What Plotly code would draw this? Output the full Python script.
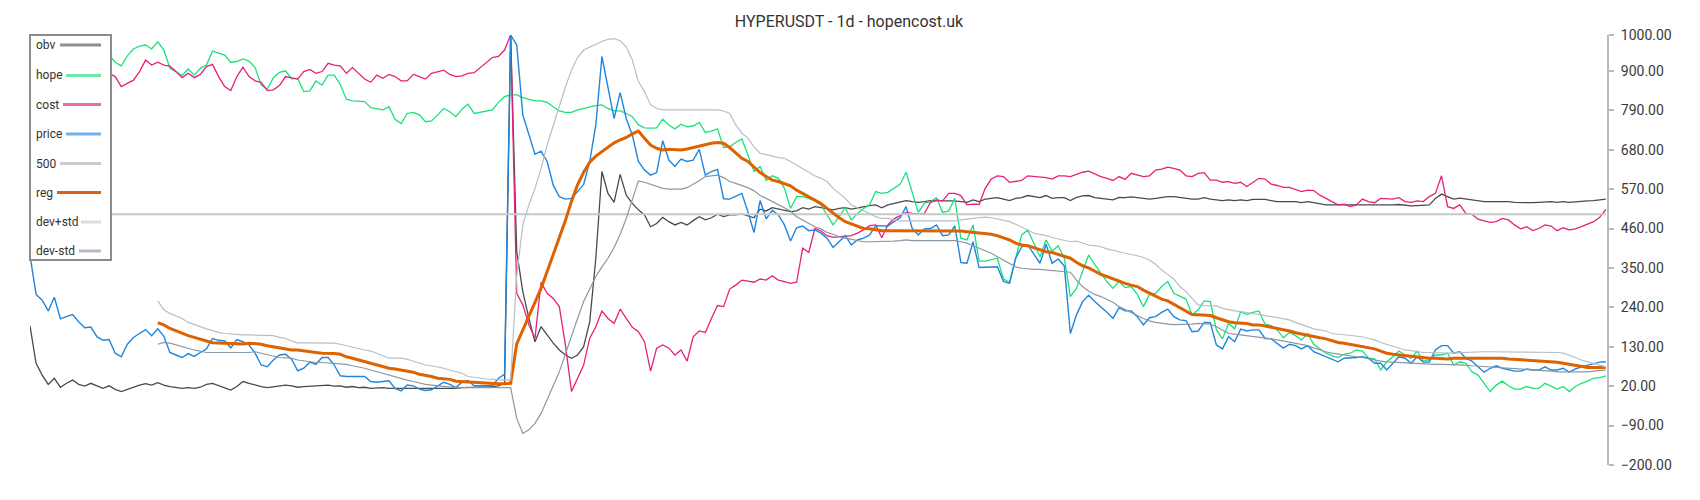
import plotly.graph_objects as go

N = 260
idx = list(range(N))

price = [
    385, 276, 260, 230, 268, 208, 214, 220, 200, 183, 185, 158, 148, 150, 112, 102, 137, 156, 167, 178,
    161, 180, 159, 114, 107, 100, 111, 103, 114, 124, 153, 148, 146, 127, 150, 144, 135, 112, 79, 74,
    93, 107, 109, 95, 63, 70, 87, 81, 100, 100, 79, 49, 47, 47, 47, 47, 33, 31, 33, 35,
    14, 7, 23, 21, 12, 8, 10, 21, 31, 25, 16, 31, 36, 21, 21, 23, 21, 42, 53, 1000,
    972, 777, 721, 667, 676, 647, 581, 549, 542, 544, 563, 583, 647, 749, 940, 851, 767, 839, 767, 721,
    647, 623, 609, 616, 705, 651, 633, 654, 647, 651, 681, 609, 619, 625, 543, 542, 551, 558, 507, 449,
    538, 487, 511, 498, 470, 425, 462, 467, 454, 456, 447, 433, 407, 425, 440, 414, 428, 433, 442, 468,
    467, 467, 479, 490, 521, 460, 442, 459, 460, 470, 440, 442, 467, 365, 363, 423, 351, 351, 351, 353,
    312, 307, 377, 409, 414, 388, 363, 416, 363, 375, 355, 167, 219, 256, 274, 256, 242, 226, 209, 239,
    230, 230, 214, 191, 211, 214, 226, 235, 214, 205, 203, 172, 174, 198, 197, 135, 124, 158, 144, 179,
    174, 177, 177, 153, 152, 140, 126, 137, 133, 124, 133, 116, 109, 101, 95, 88, 98, 98, 100, 102,
    98, 84, 84, 65, 84, 102, 98, 84, 102, 87, 87, 121, 133, 133, 112, 116, 98, 90, 74, 59,
    70, 77, 70, 65, 62, 62, 68, 65, 65, 74, 65, 65, 70, 59, 68, 74, 79, 84, 87, 88,
]

obv = [
    188, 84, 51, 25, 42, 17, 28, 37, 25, 20, 28, 20, 14, 21, 11, 5, 11, 19, 23, 27,
    23, 30, 23, 19, 16, 14, 16, 14, 17, 25, 28, 21, 14, 9, 19, 33, 28, 23, 19, 16,
    19, 21, 23, 21, 17, 19, 20, 19, 21, 23, 20, 21, 17, 19, 16, 17, 14, 16, 16, 14,
    14, 14, 12, 14, 14, 12, 12, 14, 12, 14, 14, 16, 16, 17, 17, 18, 19, 21, 28, 1000,
    395, 284, 209, 144, 186, 163, 140, 121, 107, 98, 107, 130, 200, 377, 619, 558, 533, 611, 553, 530,
    512, 498, 465, 474, 491, 479, 470, 477, 470, 482, 493, 484, 490, 500, 493, 498, 498, 501, 496, 490,
    514, 509, 518, 514, 509, 507, 509, 518, 514, 521, 518, 514, 512, 516, 518, 514, 518, 521, 524, 526,
    518, 526, 530, 535, 538, 535, 533, 535, 538, 537, 538, 537, 537, 535, 533, 540, 535, 542, 544, 546,
    542, 538, 544, 546, 552, 549, 546, 552, 544, 546, 546, 538, 547, 551, 552, 546, 544, 542, 540, 547,
    546, 548, 546, 542, 542, 544, 547, 549, 549, 547, 543, 542, 542, 546, 542, 540, 538, 540, 538, 540,
    538, 541, 541, 541, 538, 535, 535, 535, 535, 532, 535, 532, 528, 526, 526, 526, 526, 525, 524, 526,
    526, 524, 526, 525, 526, 527, 524, 523, 524, 524, 526, 544, 556, 549, 542, 545, 542, 540, 538, 535,
    535, 535, 537, 535, 533, 532, 533, 532, 533, 535, 535, 533, 535, 533, 535, 535, 537, 538, 540, 542,
]

hope = [
    950, 955, 945, 938, 948, 960, 952, 944, 936, 946, 952, 948, 940, 944, 924, 914, 942, 961, 969, 972,
    961, 981, 958, 907, 896, 887, 905, 888, 907, 916, 955, 950, 944, 924, 926, 933, 927, 909, 860, 849,
    881, 896, 900, 878, 879, 842, 844, 872, 860, 888, 888, 862, 821, 816, 816, 814, 797, 795, 791, 800,
    765, 753, 781, 784, 777, 758, 760, 777, 795, 786, 772, 793, 807, 781, 784, 788, 791, 812, 828, 833,
    833, 825, 821, 816, 816, 812, 800, 788, 784, 784, 791, 795, 800, 803, 805, 795, 788, 788, 781, 772,
    749, 741, 740, 741, 765, 749, 738, 751, 744, 746, 756, 728, 732, 738, 686, 688, 700, 710, 665, 619,
    633, 594, 607, 600, 572, 516, 549, 549, 544, 537, 526, 498, 470, 493, 518, 484, 502, 516, 526, 563,
    558, 561, 572, 583, 617, 560, 505, 530, 535, 546, 505, 509, 544, 433, 428, 470, 369, 369, 372, 377,
    319, 310, 377, 442, 456, 419, 381, 428, 397, 412, 377, 270, 293, 340, 386, 360, 335, 312, 293, 312,
    295, 298, 276, 242, 276, 279, 298, 312, 279, 270, 263, 219, 233, 258, 256, 177, 152, 195, 180, 228,
    220, 226, 230, 193, 189, 177, 155, 170, 161, 149, 167, 137, 124, 112, 105, 100, 109, 112, 121, 118,
    98, 96, 65, 88, 102, 118, 107, 98, 118, 90, 93, 107, 107, 112, 79, 88, 84, 60, 51, 28,
    5, 23, 34, 21, 12, 12, 19, 14, 14, 28, 19, 12, 19, 5, 19, 28, 34, 42, 44, 49,
]

cost = [
    880, 872, 885, 895, 880, 868, 875, 890, 900, 888, 876, 882, 895, 893, 884, 856, 865, 874, 898, 930,
    916, 924, 916, 913, 898, 881, 893, 881, 890, 912, 918, 884, 856, 845, 884, 910, 884, 872, 868, 845,
    847, 859, 884, 880, 877, 898, 904, 893, 898, 921, 916, 914, 893, 909, 893, 877, 868, 888, 879, 890,
    884, 872, 872, 890, 884, 877, 893, 898, 902, 890, 884, 886, 893, 895, 909, 921, 937, 940, 958, 1000,
    279, 247, 191, 154, 310, 279, 265, 242, 135, 5, 42, 79, 154, 186, 230, 209, 195, 235, 209, 184,
    172, 144, 62, 126, 135, 126, 107, 121, 90, 158, 174, 170, 209, 245, 242, 291, 302, 316, 313, 310,
    319, 316, 328, 316, 312, 307, 310, 405, 393, 460, 453, 440, 435, 437, 440, 440, 447, 456, 468, 470,
    434, 470, 487, 496, 505, 502, 500, 502, 533, 540, 537, 558, 558, 552, 526, 528, 527, 572, 598, 607,
    605, 589, 591, 594, 607, 605, 605, 602, 598, 607, 607, 605, 611, 617, 620, 612, 605, 600, 594, 605,
    597, 614, 609, 605, 607, 623, 626, 631, 628, 623, 607, 605, 614, 616, 595, 595, 589, 591, 586, 589,
    577, 589, 600, 598, 584, 580, 575, 575, 569, 563, 567, 566, 553, 544, 537, 526, 528, 521, 526, 542,
    535, 532, 544, 542, 542, 546, 535, 533, 537, 535, 549, 558, 607, 521, 516, 526, 502, 500, 486, 481,
    477, 479, 488, 484, 470, 459, 465, 454, 460, 470, 467, 454, 462, 456, 459, 465, 472, 479, 491, 513,
]

level_500 = [500] * N

reg = [None] * 21 + [
    197, 191, 181, 174, 167, 161, 156, 152, 146, 141, 140, 139, 138, 137, 138, 140, 139, 137, 133,
    130, 126, 124, 121, 121, 118, 116, 114, 112, 112, 111, 109, 102, 98, 93, 88, 84, 79, 74, 70,
    68, 65, 62, 59, 53, 51, 47, 42, 40, 39, 34, 33, 31, 30, 28, 28, 27, 27, 27, 28,
    138, 178, 216, 254, 293, 340, 386, 433, 482, 536, 582, 617, 645, 662, 675, 688, 699, 707, 714, 724,
    732, 712, 693, 684, 679, 681, 679, 679, 682, 686, 691, 695, 698, 700, 698, 686, 670, 656, 647, 630,
    616, 605, 595, 591, 584, 579, 567, 558, 549, 540, 530, 516, 502, 490, 479, 472, 465, 460, 459, 456,
    454, 454, 454, 454, 454, 454, 454, 454, 454, 454, 454, 454, 454, 453, 451, 449, 449, 447, 444, 440,
    435, 428, 419, 414, 412, 407, 400, 395, 393, 388, 384, 377, 366, 356, 350, 341, 332, 326, 319, 314,
    307, 302, 298, 288, 279, 270, 263, 258, 248, 239, 230, 220, 219, 219, 217, 211, 205, 200, 197, 197,
    195, 191, 191, 188, 185, 181, 177, 174, 169, 165, 161, 158, 155, 152, 146, 142, 140, 137, 133, 130,
    127, 124, 118, 112, 109, 107, 105, 102, 102, 100, 98, 98, 96, 96, 98, 98, 100, 100, 100, 100,
    98, 98, 98, 96, 95, 93, 93, 91, 90, 88, 88, 87, 84, 81, 77, 74, 72, 72, 72, 72,
]

dev_plus = [None] * 21 + [
    258, 233, 223, 217, 209, 198, 193, 186, 180, 174, 170, 167, 165, 165, 163, 163, 163, 163, 163,
    161, 156, 153, 146, 141, 141, 141, 141, 141, 141, 140, 137, 133, 127, 124, 121, 118, 112, 105, 98,
    98, 98, 95, 90, 84, 79, 77, 74, 70, 65, 60, 56, 47, 44, 42, 40, 39, 37, 37, 37,
    330, 470, 526, 572, 628, 693, 749, 800, 855, 902, 937, 958, 966, 975, 982, 988, 990, 984, 967, 930,
    870, 842, 805, 795, 791, 791, 791, 791, 791, 791, 793, 793, 793, 791, 788, 781, 749, 726, 712, 688,
    670, 665, 662, 658, 656, 647, 637, 628, 619, 607, 600, 591, 572, 558, 544, 526, 518, 512, 502, 493,
    488, 488, 484, 481, 481, 481, 481, 481, 481, 481, 481, 481, 481, 484, 487, 488, 490, 492, 490, 487,
    484, 479, 472, 465, 456, 447, 444, 440, 435, 431, 425, 423, 425, 419, 414, 412, 409, 403, 400, 395,
    391, 388, 384, 379, 372, 360, 344, 332, 319, 298, 284, 265, 247, 245, 245, 244, 237, 233, 230, 228,
    226, 223, 220, 217, 214, 211, 209, 205, 198, 191, 186, 180, 177, 174, 167, 165, 163, 163, 161, 158,
    153, 149, 142, 137, 130, 126, 121, 119, 116, 114, 114, 113, 112, 112, 113, 114, 114, 115, 116, 116,
    116, 116, 116, 116, 116, 116, 116, 116, 116, 116, 116, 114, 112, 107, 100, 93, 88, 84, 79, 74,
]

dev_minus = [None] * 21 + [
    137, 142, 140, 135, 129, 126, 121, 118, 114, 114, 114, 114, 114, 113, 112, 114, 116, 112, 107,
    104, 100, 99, 98, 93, 90, 88, 86, 86, 85, 85, 83, 81, 77, 74, 70, 65, 60, 56, 51,
    47, 42, 37, 33, 28, 25, 23, 21, 19, 17, 16, 16, 16, 16, 16, 16, 16, 16, 16, 16,
    -70, -112, -102, -84, -56, -19, 21, 60, 110, 163, 209, 256, 293, 326, 353, 377, 407, 444, 488, 544,
    593, 589, 583, 577, 572, 570, 570, 570, 574, 583, 593, 605, 607, 609, 602, 591, 586, 581, 574, 565,
    552, 544, 535, 526, 516, 509, 493, 484, 474, 465, 459, 449, 444, 437, 433, 430, 426, 423, 423, 423,
    423, 423, 425, 426, 428, 426, 426, 428, 428, 428, 426, 426, 426, 423, 419, 412, 405, 397, 391, 381,
    372, 363, 353, 349, 347, 346, 346, 344, 342, 341, 340, 338, 316, 298, 285, 276, 270, 263, 254, 242,
    233, 226, 217, 209, 202, 198, 195, 193, 192, 192, 192, 193, 195, 195, 193, 186, 177, 167, 165, 163,
    161, 158, 156, 153, 152, 149, 146, 142, 140, 137, 133, 127, 121, 116, 112, 109, 107, 105, 102, 100,
    96, 93, 90, 88, 87, 86, 84, 84, 83, 82, 81, 81, 81, 81, 79, 79, 79, 77, 76, 74,
    73, 72, 72, 70, 70, 68, 67, 65, 64, 63, 62, 60, 60, 59, 59, 59, 60, 62, 63, 65,
]

y_ticks = [-200, -90, 20, 130, 240, 350, 460, 570, 680, 790, 900, 1000]

series_names = ["obv", "hope", "cost", "price", "500", "reg", "dev+std", "dev-std"]
series_data = [obv, hope, cost, price, level_500, reg, dev_plus, dev_minus]
line_colors = ["#4a4a4a", "#19e27a", "#e6217a", "#1f86e0", "#c8c8c8", "#de6200", "#b6bec6", "#8a98a4"]
line_widths = [1.3, 1.3, 1.3, 1.4, 2, 3, 1.2, 1.2]
legend_colors = ["#8e8e8e", "#6fe9a6", "#ef6aa9", "#6db2ee", "#cccccc", "#d66410", "#d9dde0", "#b3bcc4"]

fig = go.Figure()
for name, data, col, w in zip(series_names, series_data, line_colors, line_widths):
    fig.add_trace(go.Scatter(x=idx, y=data, mode="lines", name=name,
                             line=dict(color=col, width=w), connectgaps=False,
                             hoverinfo="skip"))

# The page body adds an 8px offset; positions below are page pixels.
OFF = 8
W, H = 1700 - OFF, 500 - OFF
PLOT_LEFT, PLOT_RIGHT, PLOT_TOP, PLOT_BOTTOM = 30, 1607, 35, 465
L = PLOT_LEFT - OFF
T = PLOT_TOP - OFF
R = W - (PLOT_RIGHT - OFF)
B = H - (PLOT_BOTTOM - OFF)
PW = PLOT_RIGHT - PLOT_LEFT
PH = PLOT_BOTTOM - PLOT_TOP


def px(x):
    return (x - PLOT_LEFT) / PW


def py(y):
    return (PLOT_BOTTOM - y) / PH


shapes = []
annotations = []
# custom legend box (text left, line sample right)
shapes.append(dict(type="rect", xref="paper", yref="paper",
                   x0=px(30), x1=px(111), y0=py(260), y1=py(35),
                   fillcolor="white", line=dict(color="#8c8c8c", width=2), layer="above"))
legend_y = [45, 75.5, 104.5, 134, 163.5, 192.5, 222, 251]
line_start = [60, 66, 63, 66, 60, 57, 81, 79]
for name, yy, xs, col in zip(series_names, legend_y, line_start, legend_colors):
    annotations.append(dict(xref="paper", yref="paper", x=px(34), y=py(yy),
                            text=name, showarrow=False, xanchor="left", yanchor="middle",
                            font=dict(family="Roboto", size=12, color="#333333")))
    shapes.append(dict(type="line", xref="paper", yref="paper",
                       x0=px(xs), x1=px(101), y0=py(yy), y1=py(yy),
                       line=dict(color=col, width=3), layer="above"))

fig.update_layout(
    width=W, height=H,
    margin=dict(l=L, r=R, t=T, b=B),
    paper_bgcolor="white", plot_bgcolor="white",
    showlegend=False,
    title=dict(text="HYPERUSDT - 1d - hopencost.uk", x=(849 - OFF) / W, xref="container",
               xanchor="center", y=1 - (21 - OFF) / H, yref="container", yanchor="middle",
               font=dict(family="Roboto", size=16, color="#333333")),
    xaxis=dict(visible=False, range=[0, 259.2]),
    yaxis=dict(side="right", range=[-200, 1000], tickvals=y_ticks, tickformat=".2f",
               showgrid=False, zeroline=False, showline=True, linecolor="#b3bbc3", linewidth=2,
               ticks="outside", ticklen=5, tickwidth=2, tickcolor="#b3bbc3",
               ticklabelstandoff=4,
               tickfont=dict(family="Roboto", size=14, color="#3a3a3a")),
    shapes=shapes, annotations=annotations,
)

fig.write_html("out.html")
